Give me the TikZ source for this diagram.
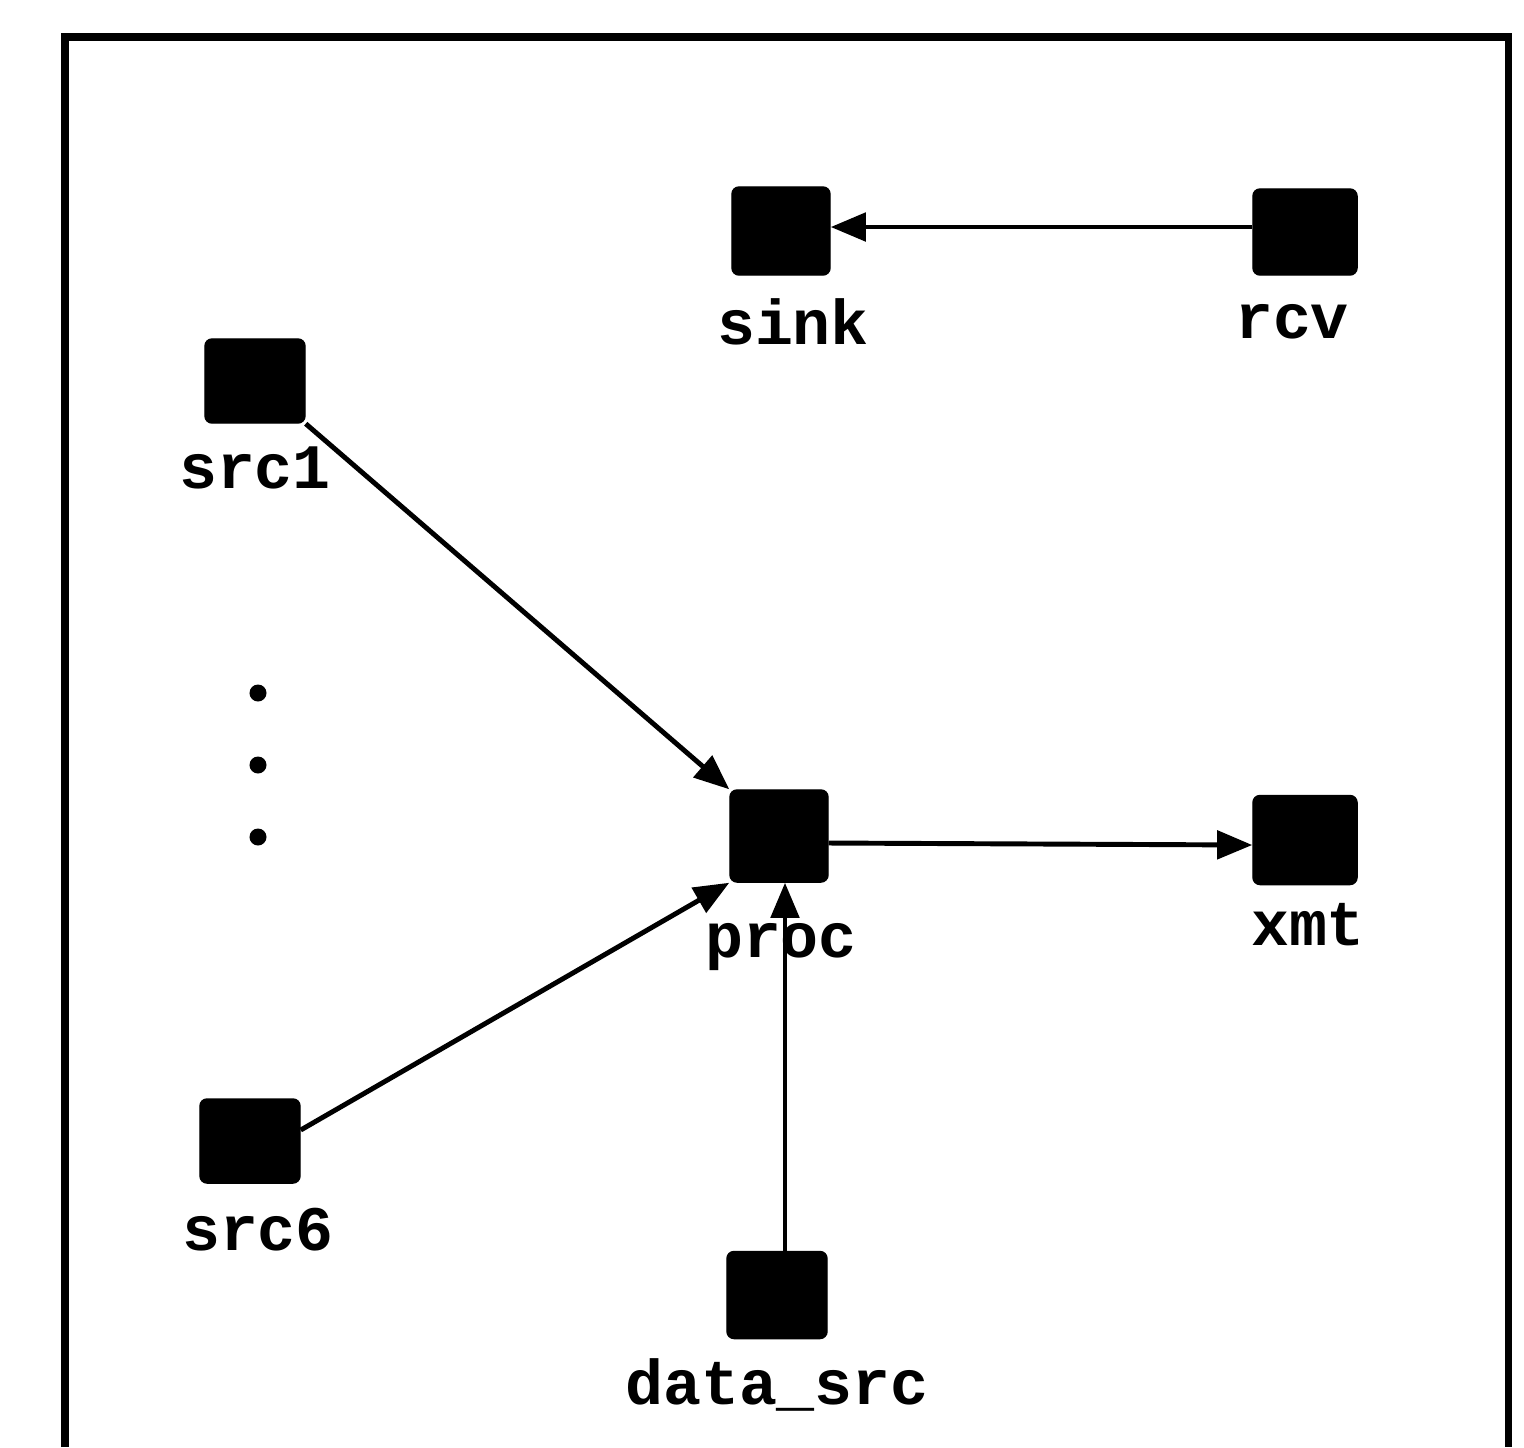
\documentclass[tikz,border=0pt]{standalone}
\usepackage{fontspec}
\setmonofont{Liberation Mono}
\usetikzlibrary{arrows.meta}
\begin{document}
\begin{tikzpicture}[x=0.01cm,y=-0.01cm,
  blk/.style={draw=black,fill=black,rounded corners=2pt,minimum width=0.98cm,minimum height=0.88cm,inner sep=0pt},
  lbl/.style={font=\ttfamily\bfseries\fontsize{18}{20}\selectfont,inner sep=0pt,anchor=center},
  dotn/.style={circle,fill=black,minimum size=0.17cm,inner sep=0pt},
  conn/.style={line width=1.4pt,-{Triangle[length=10pt,width=8pt]}},
  frame/.style={line width=2pt}]
\useasboundingbox (0,0) rectangle (1524,1447);
% frame (open at bottom)
\coordinate (fbl) at (65,1447);
\coordinate (ftl) at (65,37);
\coordinate (ftr) at (1508,37);
\coordinate (fbr) at (1508,1447);
\draw[frame] (fbl) -- (ftl) -- (ftr) -- (fbr);
% nodes
\node[blk] (sink) at (781,231) {};
\node[blk,minimum width=1.04cm,minimum height=0.86cm] (rcv) at (1305,232) {};
\node[blk,minimum width=1.0cm,minimum height=0.84cm] (src1) at (255,381) {};
\node[blk,minimum width=1.0cm,minimum height=0.84cm] (src6) at (250,1141) {};
\node[blk,minimum width=0.98cm,minimum height=0.92cm] (proc) at (779,836) {};
\node[blk,minimum width=1.04cm,minimum height=0.89cm] (xmt) at (1305,840) {};
\node[blk,minimum width=1.0cm,minimum height=0.87cm] (dsrc) at (777,1295) {};
% labels
\node[lbl] (sinkL) at (793,322) {sink};
\node[lbl] (rcvL) at (1292,322) {rcv};
\node[lbl] (src1L) at (255,468) {src1};
\node[lbl] (src6L) at (258,1230) {src6};
\node[lbl] (procL) at (781,947) {proc};
\node[lbl] (xmtL) at (1308,925) {xmt};
\node[lbl] (dsrcL) at (777,1385) {data\_src};
% dots
\node[dotn] (d1) at (258,693) {};
\node[dotn] (d2) at (258,765) {};
\node[dotn] (d3) at (258,837) {};
% connectors
\draw[conn] (rcv.west |- 0,227) -- (sink.east |- 0,227);
\draw[conn] (src1.south east) -- (proc.north west);
\draw[conn] (src6.east |- 0,1130) -- (proc.south west);
\draw[conn] (dsrc.north -| 785,0) -- (proc.south -| 785,0);
\draw[conn] (proc.east |- 0,843) -- (xmt.west |- 0,845);
\end{tikzpicture}
\end{document}
